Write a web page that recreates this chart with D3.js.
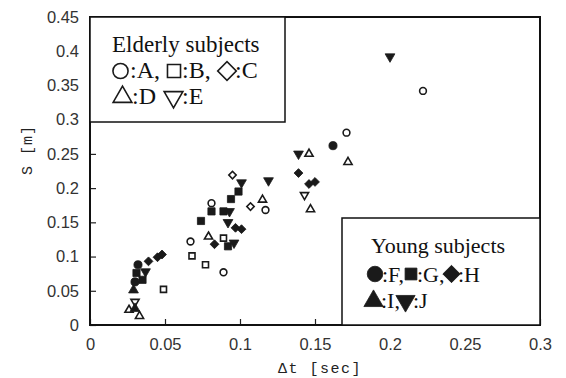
<!DOCTYPE html>
<html>
<head>
<meta charset="utf-8">
<script src="https://cdnjs.cloudflare.com/ajax/libs/d3/7.8.5/d3.min.js"></script>
<style>
  body { margin: 0; background: #fff; }
  svg { display: block; }
</style>
</head>
<body>
<svg id="chart" viewBox="0 0 566 378" width="566" height="378"></svg>
<script>
// [dt (sec), S (m)]
// elderly subjects (open marks)
const subjA = [[0.222,0.342],[0.171,0.281],[0.117,0.168],[0.081,0.178],[0.067,0.122],[0.089,0.077]];
const subjB = [[0.089,0.127],[0.068,0.101],[0.077,0.088],[0.049,0.052]];
const subjC = [[0.095,0.219],[0.107,0.173]];
const subjD = [[0.172,0.238],[0.146,0.250],[0.147,0.169],[0.115,0.183],[0.079,0.129],[0.026,0.022],[0.033,0.013]];
const subjE = [[0.143,0.190],[0.030,0.034]];
// young subjects (filled marks)
const subjF = [[0.162,0.262],[0.032,0.088],[0.030,0.063]];
const subjG = [[0.099,0.195],[0.094,0.184],[0.081,0.166],[0.074,0.152],[0.089,0.166],[0.092,0.115],[0.031,0.076],[0.035,0.066]];
const subjH = [[0.139,0.222],[0.146,0.206],[0.150,0.209],[0.097,0.142],[0.101,0.140],[0.083,0.118],[0.045,0.099],[0.048,0.103],[0.039,0.093]];
const subjI = [[0.029,0.051],[0.030,0.024]];
const subjJ = [[0.200,0.392],[0.139,0.250],[0.119,0.211],[0.101,0.208],[0.093,0.166],[0.092,0.150],[0.096,0.120],[0.037,0.078]];

const xTicks = [0, 0.05, 0.1, 0.15, 0.2, 0.25, 0.3];
const yTicks = [0, 0.05, 0.1, 0.15, 0.2, 0.25, 0.3, 0.35, 0.4, 0.45];

const svg = d3.select("#chart");

const x = d3.scaleLinear().domain([0, 0.3]).range([90, 540]);
const y = d3.scaleLinear().domain([0, 0.45]).range([325, 17]);

const fmt = d => String(+d.toFixed(2));

// symbol shapes, rotated square for diamond, flipped triangle for down
const shapes = {
    circle:   {type: d3.symbolCircle, rot: 0, k: 1},
    square:   {type: d3.symbolSquare, rot: 0, k: 1},
    diamond:  {type: d3.symbolSquare, rot: 45, k: 0.75},
    triangle: {type: d3.symbolTriangle, rot: 0, k: 0.8},
    down:     {type: d3.symbolTriangle, rot: 180, k: 0.8}
};

const series = [
    {id: "A", pts: subjA, shape: "circle",   filled: false},
    {id: "B", pts: subjB, shape: "square",   filled: false},
    {id: "C", pts: subjC, shape: "diamond",  filled: false},
    {id: "D", pts: subjD, shape: "triangle", filled: false},
    {id: "E", pts: subjE, shape: "down",     filled: false},
    {id: "F", pts: subjF, shape: "circle",   filled: true},
    {id: "G", pts: subjG, shape: "square",   filled: true},
    {id: "H", pts: subjH, shape: "diamond",  filled: true},
    {id: "I", pts: subjI, shape: "triangle", filled: true},
    {id: "J", pts: subjJ, shape: "down",     filled: true}
];

function drawMark(g, s, cx, cy, size) {
    const sh = shapes[s.shape];
    g.append("path")
        .attr("d", d3.symbol().type(sh.type).size(size * sh.k)())
        .attr("transform", `translate(${cx},${cy}) rotate(${sh.rot})`)
        .attr("fill", s.filled ? "#1a1a1a" : "#fff")
        .attr("stroke", "#1a1a1a")
        .attr("stroke-width", s.filled ? 0.8 : 1.6);
}

// axes (ticks inward)
const yAxis = d3.axisLeft(y).tickValues(yTicks).tickFormat(fmt).tickSize(-6).tickSizeOuter(0).tickPadding(11);
const xAxis = d3.axisBottom(x).tickValues(xTicks).tickFormat(fmt).tickSize(-6).tickSizeOuter(0).tickPadding(13);

const gy = svg.append("g").attr("transform", "translate(90,0)").call(yAxis);
const gx = svg.append("g").attr("transform", "translate(0,325)").call(xAxis);
[gx, gy].forEach(g => {
    g.select(".domain").remove();
    g.selectAll(".tick line").attr("stroke", "#222").attr("stroke-width", 1.2);
    g.selectAll(".tick text")
        .attr("fill", "#333")
        .style("font-family", "'Liberation Sans', Arial, sans-serif")
        .style("font-size", "16.5px");
});

// points
const marks = svg.append("g");
series.forEach(s => {
    s.pts.forEach(p => drawMark(marks, s, x(p[0]), y(p[1]), s.filled ? 52 : 36));
});

// frame
svg.append("rect")
    .attr("x", 90).attr("y", 17)
    .attr("width", 450).attr("height", 308)
    .attr("fill", "none").attr("stroke", "#111").attr("stroke-width", 2);

// axis titles
svg.append("text")
    .attr("x", 320).attr("y", 373)
    .attr("text-anchor", "middle")
    .style("font-family", "'Liberation Mono', monospace")
    .style("font-size", "15px")
    .style("letter-spacing", "1.5px")
    .attr("fill", "#222")
    .text("Δt [sec]");

svg.append("text")
    .attr("transform", "translate(32,150) rotate(-90)")
    .attr("text-anchor", "middle")
    .style("font-family", "'Liberation Mono', monospace")
    .style("font-size", "15px")
    .style("letter-spacing", "1px")
    .attr("fill", "#222")
    .text("S [m]");

// legends
const serif = "'Liberation Serif', 'Times New Roman', serif";
const byId = id => series.find(s => s.id === id);

function legendRow(g, baseY, symY, fontSize, items) {
    items.forEach(it => {
        if (it.id) {
            drawMark(g, byId(it.id), it.x, symY, it.size);
        } else {
            g.append("text").attr("x", it.x).attr("y", baseY)
                .style("font-family", serif).style("font-size", fontSize + "px")
                .attr("fill", "#111").text(it.t);
        }
    });
}

const elder = svg.append("g");
elder.append("rect").attr("x", 90).attr("y", 17).attr("width", 195).attr("height", 105)
    .attr("fill", "#fff").attr("stroke", "#111").attr("stroke-width", 1.5);
elder.append("text").attr("x", 112).attr("y", 52)
    .style("font-family", serif).style("font-size", "23px").attr("fill", "#111")
    .text("Elderly subjects");
legendRow(elder, 78, 71, 24, [
    {id: "A", x: 120.5, size: 180}, {t: ":A,", x: 130},
    {id: "B", x: 174, size: 170}, {t: ":B,", x: 182},
    {id: "C", x: 227, size: 230}, {t: ":C", x: 235}
]);
legendRow(elder, 104, 97, 24, [
    {id: "D", x: 122.5, size: 190}, {t: ":D", x: 132},
    {id: "E", x: 173.5, size: 190}, {t: ":E", x: 182}
]);

const young = svg.append("g");
young.append("rect").attr("x", 342).attr("y", 218).attr("width", 198).attr("height", 107)
    .attr("fill", "#fff").attr("stroke", "#111").attr("stroke-width", 1.5);
young.append("text").attr("x", 371).attr("y", 253)
    .style("font-family", serif).style("font-size", "22px").attr("fill", "#111")
    .text("Young subjects");
legendRow(young, 282, 274, 22, [
    {id: "F", x: 375, size: 190}, {t: ":F,", x: 382},
    {id: "G", x: 411, size: 140}, {t: ":G,", x: 417},
    {id: "H", x: 451.5, size: 200}, {t: ":H", x: 458}
]);
legendRow(young, 308, 301, 22, [
    {id: "I", x: 373.5, size: 200}, {t: ":I,", x: 381},
    {id: "J", x: 405.5, size: 200}, {t: ":J", x: 413}
]);
</script>
</body>
</html>
